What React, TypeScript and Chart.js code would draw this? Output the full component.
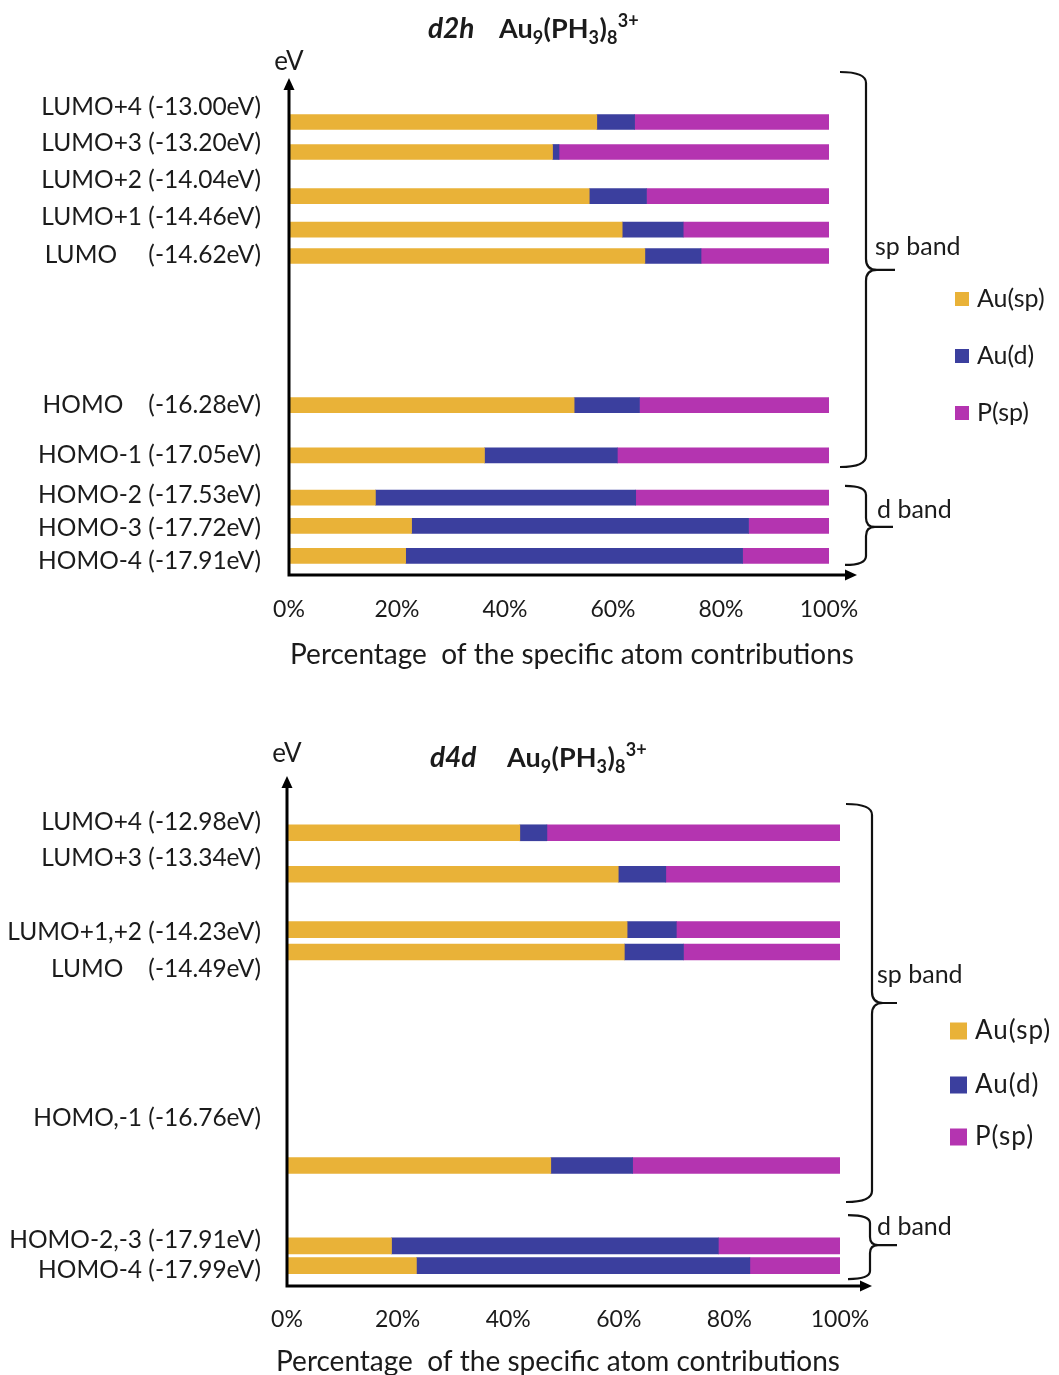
import React, { useEffect, useRef } from "react";
import { Chart, registerables } from "chart.js";

Chart.register(...registerables);

// ---------- shared series ----------
const seriesNames = ["Au(sp)", "Au(d)", "P(sp)"];
const seriesColors = ["#E9B238", "#3B3F9E", "#B434B0"];
const xTickValues = [0, 20, 40, 60, 80, 100];
const xTitleText = "Percentage  of the specific atom contributions";

// ---------- panel d2h ----------
const d2hLabels = [
  "LUMO+4 (-13.00eV)",
  "LUMO+3 (-13.20eV)",
  "LUMO+2 (-14.04eV)",
  "LUMO+1 (-14.46eV)",
  "LUMO     (-14.62eV)",
  "HOMO    (-16.28eV)",
  "HOMO-1 (-17.05eV)",
  "HOMO-2 (-17.53eV)",
  "HOMO-3 (-17.72eV)",
  "HOMO-4 (-17.91eV)",
];
// label positions on the drawn (not-to-scale) eV axis
const d2hLabelPos = [-12.83, -13.24, -13.66, -14.08, -14.51, -16.21, -16.78, -17.23, -17.60, -17.98];
// bar positions on the drawn eV axis
const d2hLevelPos = [-13.0, -13.34, -13.84, -14.22, -14.52, -16.21, -16.78, -17.26, -17.58, -17.92];
const d2hAuSp = [57.0, 48.8, 55.6, 61.7, 65.9, 52.8, 36.2, 16.0, 22.7, 21.6];
const d2hAuD = [7.0, 1.2, 10.6, 11.3, 10.4, 12.1, 24.6, 48.2, 62.4, 62.4];
const d2hPSp = [36.0, 50.0, 33.8, 27.0, 23.7, 35.1, 39.2, 35.8, 14.9, 16.0];
// band braces: [top, cusp, bottom] on the drawn eV axis
const d2hSpBand = [-12.433, -14.678, -16.912];
const d2hDBand = [-17.127, -17.592, -18.023];

// ---------- panel d4d ----------
const d4dLabels = [
  "LUMO+4 (-12.98eV)",
  "LUMO+3 (-13.34eV)",
  "LUMO+1,+2 (-14.23eV)",
  "LUMO    (-14.49eV)",
  "HOMO,-1 (-16.76eV)",
  "HOMO-2,-3 (-17.91eV)",
  "HOMO-4 (-17.99eV)",
];
const d4dLabelPos = [-12.855, -13.27, -14.13, -14.56, -16.28, -17.69, -18.04];
const d4dLevelPos = [-12.98, -13.46, -14.1, -14.36, -16.83, -17.76, -17.99];
const d4dAuSp = [42.1, 59.9, 61.5, 61.0, 47.7, 18.9, 23.4];
const d4dAuD = [4.9, 8.6, 8.9, 10.7, 14.8, 59.1, 60.3];
const d4dPSp = [53.0, 31.5, 29.6, 28.3, 37.5, 22.0, 16.3];
const d4dSpBand = [-12.647, -14.95, -17.253];
const d4dDBand = [-17.404, -17.751, -18.145];

const FONT = "Lato, 'Open Sans', sans-serif";
const TEXT = "#1b1b1b";

type Panel = {
  height: number;
  lead: string;
  labels: string[];
  labelPos: number[];
  levelPos: number[];
  series: number[][];
  spBand: number[];
  dBand: number[];
  yMin: number;
  yMax: number;
  padTop: number;
  padRight: number;
  yAxisWidth: number;
  xAxisHeight: number;
  labelPad: number;
  tickPad: number;
  barThickness: number;
  deco: any;
};

const panels: Panel[] = [
  {
    height: 690,
    lead: "d2h",
    labels: d2hLabels,
    labelPos: d2hLabelPos,
    levelPos: d2hLevelPos,
    series: [d2hAuSp, d2hAuD, d2hPSp],
    spBand: d2hSpBand,
    dBand: d2hDBand,
    yMin: -18.137,
    yMax: -12.467,
    padTop: 75,
    padRight: 230,
    yAxisWidth: 289,
    xAxisHeight: 115,
    labelPad: 28,
    tickPad: 21,
    barThickness: 15,
    deco: {
      leadX: 428, restX: 499, titleBase: 38,
      evY: 62, arrowTop: 78, arrowRight: 857,
      sp: { x0: 840, x1: 866, x2: 895, r: 11, textX: 875, textPos: -14.417 },
      d: { x0: 845, x1: 866, x2: 893, r: 9, textX: 877, textPos: -17.4 },
      legend: { boxX: 955, box: 14, textX: 977, ys: [299, 356, 413], size: 25, spacing: 0 },
      xTitle: { x: 572, y: 655 },
    },
  },
  {
    height: 685,
    lead: "d4d",
    labels: d4dLabels,
    labelPos: d4dLabelPos,
    levelPos: d4dLevelPos,
    series: [d4dAuSp, d4dAuD, d4dPSp],
    spBand: d4dSpBand,
    dBand: d4dDBand,
    yMin: -18.225,
    yMax: -12.323,
    padTop: 86,
    padRight: 219,
    yAxisWidth: 287,
    xAxisHeight: 89,
    labelPad: 26,
    tickPad: 20,
    barThickness: 16,
    deco: {
      leadX: 430, restX: 507, titleBase: 77,
      evY: 64, arrowTop: 86, arrowRight: 872,
      sp: { x0: 846, x1: 872, x2: 897, r: 11, textX: 877, textPos: -14.626 },
      d: { x0: 848, x1: 870, x2: 897, r: 8, textX: 877, textPos: -17.545 },
      legend: { boxX: 950, box: 17, textX: 975, ys: [341, 395, 447], size: 26, spacing: 1 },
      xTitle: { x: 558, y: 672 },
    },
  },
];

function drawBrace(ctx: CanvasRenderingContext2D, x0: number, x1: number, x2: number, r: number, yT: number, yM: number, yB: number) {
  ctx.beginPath();
  ctx.moveTo(x0, yT);
  ctx.quadraticCurveTo(x1, yT, x1, yT + r);
  ctx.lineTo(x1, yM - r);
  ctx.quadraticCurveTo(x1, yM, x1 + r, yM);
  ctx.lineTo(x2, yM);
  ctx.moveTo(x1 + r, yM);
  ctx.quadraticCurveTo(x1, yM, x1, yM + r);
  ctx.lineTo(x1, yB - r);
  ctx.quadraticCurveTo(x1, yB, x0, yB);
  ctx.stroke();
}

const decorPlugin = {
  id: "decor",
  afterDatasetsDraw(chart: any, _args: any, opts: any) {
    const ctx: CanvasRenderingContext2D = chart.ctx;
    const p: Panel = opts.panel;
    const d = p.deco;
    const { left, bottom } = chart.chartArea;
    const yScale = chart.scales.y;
    ctx.save();

    // axes with arrows
    ctx.strokeStyle = "#000";
    ctx.fillStyle = "#000";
    ctx.lineWidth = 3;
    ctx.beginPath();
    ctx.moveTo(left, bottom + 1.5);
    ctx.lineTo(left, d.arrowTop + 10);
    ctx.moveTo(left - 1.5, bottom);
    ctx.lineTo(d.arrowRight - 10, bottom);
    ctx.stroke();
    ctx.beginPath();
    ctx.moveTo(left, d.arrowTop);
    ctx.lineTo(left - 5.5, d.arrowTop + 12);
    ctx.lineTo(left + 5.5, d.arrowTop + 12);
    ctx.closePath();
    ctx.fill();
    ctx.beginPath();
    ctx.moveTo(d.arrowRight, bottom);
    ctx.lineTo(d.arrowRight - 12, bottom - 5.5);
    ctx.lineTo(d.arrowRight - 12, bottom + 5.5);
    ctx.closePath();
    ctx.fill();

    // eV label
    ctx.fillStyle = TEXT;
    ctx.font = `26px ${FONT}`;
    ctx.textAlign = "center";
    ctx.textBaseline = "middle";
    ctx.fillText("eV", left, d.evY);

    // title
    ctx.textAlign = "left";
    ctx.textBaseline = "alphabetic";
    ctx.font = `italic bold 28px ${FONT}`;
    ctx.fillText(p.lead, d.leadX, d.titleBase);
    const parts: [string, number, number][] = [
      ["Au", 27, 0], ["9", 18, 6], ["(PH", 27, 0], ["3", 18, 6], [")", 27, 0], ["8", 18, 6], ["3+", 18, -11],
    ];
    let tx = d.restX;
    for (const [t, s, dy] of parts) {
      ctx.font = `bold ${s}px ${FONT}`;
      ctx.fillText(t, tx, d.titleBase + dy);
      tx += ctx.measureText(t).width + (s < 20 ? 0.5 : 0);
    }

    // braces
    ctx.strokeStyle = "#111";
    ctx.lineWidth = 2.2;
    const bands: [number[], any, string][] = [
      [p.spBand, d.sp, "sp band"],
      [p.dBand, d.d, "d band"],
    ];
    ctx.font = `25px ${FONT}`;
    ctx.textBaseline = "middle";
    for (const [b, g, name] of bands) {
      drawBrace(ctx, g.x0, g.x1, g.x2, g.r, yScale.getPixelForValue(b[0]), yScale.getPixelForValue(b[1]), yScale.getPixelForValue(b[2]));
      ctx.fillText(name, g.textX, yScale.getPixelForValue(g.textPos));
    }

    // legend
    const lg = d.legend;
    ctx.font = `${lg.size}px ${FONT}`;
    (ctx as any).letterSpacing = `${lg.spacing}px`;
    chart.data.datasets.forEach((ds: any, i: number) => {
      const y = lg.ys[i];
      ctx.fillStyle = ds.backgroundColor;
      ctx.fillRect(lg.boxX, y - lg.box / 2, lg.box, lg.box);
      ctx.fillStyle = TEXT;
      ctx.fillText(ds.label, lg.textX, y);
    });
    (ctx as any).letterSpacing = "0px";

    // x title
    ctx.font = `28px ${FONT}`;
    ctx.textAlign = "center";
    ctx.fillText(xTitleText, d.xTitle.x, d.xTitle.y);
    ctx.restore();
  },
};

function makeConfig(p: Panel): any {
  return {
    type: "bar",
    data: {
      datasets: seriesNames.map((name, si) => ({
        label: name,
        data: p.levelPos.map((y, i) => ({ x: p.series[si][i], y })),
        backgroundColor: seriesColors[si],
        borderWidth: 0,
        barThickness: p.barThickness,
      })),
    },
    options: {
      indexAxis: "y",
      responsive: false,
      animation: false,
      events: [],
      layout: { padding: { top: p.padTop, right: p.padRight, left: 0, bottom: 0 } },
      scales: {
        x: {
          type: "linear",
          min: 0,
          max: 100,
          offset: false,
          stacked: true,
          grid: { display: false, drawTicks: false },
          border: { display: false },
          afterBuildTicks: (s: any) => {
            s.ticks = xTickValues.map((v) => ({ value: v }));
          },
          ticks: {
            padding: p.tickPad,
            maxRotation: 0,
            autoSkip: false,
            color: TEXT,
            font: { family: FONT, size: 23 },
            callback: (v: number) => `${v}%`,
          },
          afterFit: (s: any) => {
            s.height = p.xAxisHeight;
          },
        },
        y: {
          type: "linear",
          min: p.yMin,
          max: p.yMax,
          offset: false,
          stacked: true,
          grid: { display: false, drawTicks: false, offset: false },
          border: { display: false },
          afterBuildTicks: (s: any) => {
            s.ticks = p.labelPos.map((v) => ({ value: v }));
          },
          ticks: {
            padding: p.labelPad,
            autoSkip: false,
            color: TEXT,
            font: { family: FONT, size: 24.5 },
            callback: (_v: number, i: number) => p.labels[i],
          },
          afterFit: (s: any) => {
            s.width = p.yAxisWidth;
          },
        },
      },
      plugins: {
        legend: { display: false },
        tooltip: { enabled: false },
        title: { display: false },
        decor: { panel: p },
      },
    },
    plugins: [decorPlugin],
  };
}

function PanelChart({ p }: { p: Panel }) {
  const ref = useRef<HTMLCanvasElement>(null);
  useEffect(() => {
    if (!ref.current) return;
    const chart = new Chart(ref.current, makeConfig(p));
    return () => chart.destroy();
  }, [p]);
  return (
    <canvas
      ref={ref}
      width={1059}
      height={p.height}
      style={{ display: "block", width: 1059, height: p.height }}
    />
  );
}

export default function App() {
  useEffect(() => {
    document.body.style.margin = "0";
    document.body.style.overflow = "hidden";
  }, []);
  return (
    <div style={{ position: "absolute", left: 0, top: 0, width: 1059, height: 1375, background: "#fff" }}>
      {panels.map((p, i) => (
        <PanelChart key={i} p={p} />
      ))}
    </div>
  );
}
